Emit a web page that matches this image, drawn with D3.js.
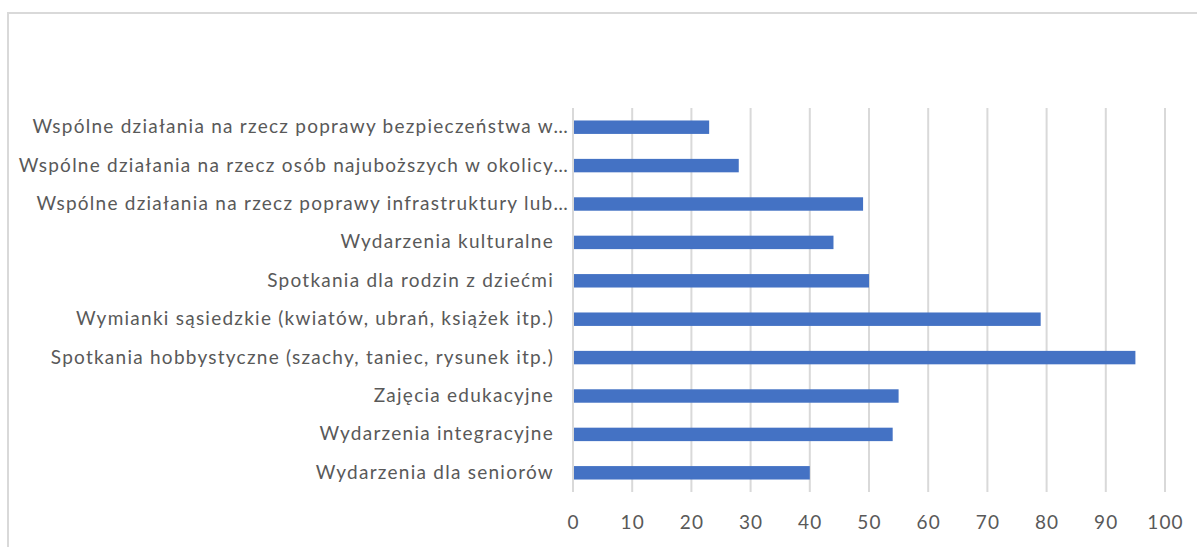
<!DOCTYPE html>
<html>
<head>
<meta charset="utf-8">
<script src="https://cdn.jsdelivr.net/npm/d3@7"></script>
<style>
  body { margin: 0; background: #fff; }
  text { font-family: Lato, "Noto Sans", sans-serif; }
</style>
</head>
<body>
<div id="chart"></div>
<script>
// categories, top to bottom as shown
var categories = [
  "Wspólne działania na rzecz poprawy bezpieczeństwa w…",
  "Wspólne działania na rzecz osób najuboższych w okolicy…",
  "Wspólne działania na rzecz poprawy infrastruktury lub…",
  "Wydarzenia kulturalne",
  "Spotkania dla rodzin z dziećmi",
  "Wymianki sąsiedzkie (kwiatów, ubrań, książek itp.)",
  "Spotkania hobbystyczne (szachy, taniec, rysunek itp.)",
  "Zajęcia edukacyjne",
  "Wydarzenia integracyjne",
  "Wydarzenia dla seniorów"
];
var values = [23, 28, 49, 44, 50, 79, 95, 55, 54, 40];
var xTicks = [0, 10, 20, 30, 40, 50, 60, 70, 80, 90, 100];

var width = 1197, height = 547;
var margin = {top: 108, right: 32, bottom: 55, left: 573};

var data = categories.map((c, i) => ({name: c, value: values[i]}));

var svg = d3.select("#chart")
  .append("svg")
  .attr("width", width)
  .attr("height", height);

// chart frame (only left and top edge visible in the crop)
svg.append("path")
  .attr("d", "M8," + height + "V13H" + width)
  .attr("fill", "none")
  .attr("stroke", "#d9d9d9")
  .attr("stroke-width", 2);

var x = d3.scaleLinear()
  .domain([0, 100])
  .range([margin.left, width - margin.right]);

var y = d3.scaleBand()
  .domain(categories)
  .range([margin.top, height - margin.bottom])
  .paddingInner(0.65)
  .paddingOuter(0.325);

// vertical gridlines
svg.append("g")
  .selectAll("line")
  .data(xTicks)
  .enter()
  .append("line")
  .attr("x1", d => x(d))
  .attr("x2", d => x(d))
  .attr("y1", margin.top)
  .attr("y2", height - margin.bottom)
  .attr("stroke", "#d9d9d9")
  .attr("stroke-width", 2);

// bars
svg.append("g")
  .selectAll("rect")
  .data(data)
  .enter()
  .append("rect")
  .attr("x", x(0) + 1)
  .attr("y", d => y(d.name))
  .attr("width", d => x(d.value) - x(0) - 1)
  .attr("height", y.bandwidth())
  .attr("fill", "#4472c4");

// x axis labels
var xAxis = d3.axisBottom(x).tickValues(xTicks).tickSize(0).tickPadding(0);
var gx = svg.append("g")
  .attr("transform", "translate(0," + (height - margin.bottom) + ")")
  .call(xAxis);
gx.select(".domain").remove();
gx.selectAll("text")
  .attr("y", 30)
  .attr("dy", "0.35em")
  .attr("fill", "#595959")
  .style("font-size", "19px")
  .style("letter-spacing", "1.2px");

// category labels
var yAxis = d3.axisLeft(y).tickSize(0).tickPadding(0);
var gy = svg.append("g")
  .attr("transform", "translate(" + margin.left + ",0)")
  .call(yAxis);
gy.select(".domain").remove();
gy.selectAll("text")
  .attr("x", d => d.endsWith("…") ? -4 : -19)
  .attr("fill", "#595959")
  .style("font-size", "19px")
  .style("letter-spacing", "1.25px");
</script>
</body>
</html>
